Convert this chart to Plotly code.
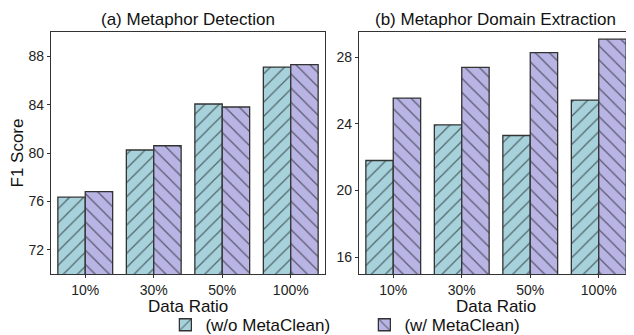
import plotly.graph_objects as go

categories = ["10%", "30%", "50%", "100%"]
det_wo = [76.35, 80.25, 84.05, 87.1]
det_w = [76.8, 80.6, 83.8, 87.3]
ext_wo = [21.8, 23.94, 23.3, 25.42]
ext_w = [25.54, 27.38, 28.26, 29.07]
det_ticks = [72, 76, 80, 84, 88]
ext_ticks = [16, 20, 24, 28]

C_WO = "#A7D2DB"
C_W = "#B8B4E4"
EDGE = "#333333"
FONT = "Liberation Sans, Arial, sans-serif"

fig = go.Figure()

def add(vals, color, shape, name, xa, ya, show):
    fig.add_trace(go.Bar(
        x=categories, y=vals, name=name, xaxis=xa, yaxis=ya,
        marker=dict(color=color, line=dict(color=EDGE, width=1.3),
                    pattern=dict(shape=shape, fgcolor="black", bgcolor=color,
                                 size=10, solidity=0.13, fillmode="overlay")),
        showlegend=show, legendgroup=name,
    ))

add(det_wo, C_WO, "/", "(w/o MetaClean)", "x", "y", True)
add(det_w, C_W, "\\", "(w/ MetaClean)", "x", "y", True)
add(ext_wo, C_WO, "/", "(w/o MetaClean)", "x2", "y2", False)
add(ext_w, C_W, "\\", "(w/ MetaClean)", "x2", "y2", False)

axcommon = dict(showline=True, linecolor=EDGE, linewidth=1.3, mirror=True,
                ticks="outside", ticklen=3, tickcolor=EDGE, showgrid=False,
                tickfont=dict(size=14, color="#222"), zeroline=False, automargin=False)

fig.update_layout(
    width=626, height=327,
    margin=dict(l=43, r=1, t=24, b=61),
    paper_bgcolor="white", plot_bgcolor="white",
    font=dict(family=FONT, color="#111"),
    barmode="group", bargap=0.2, bargroupgap=0,
    xaxis=dict(domain=[0, 0.4708], anchor="y", range=[-0.5, 3.5], **axcommon),
    yaxis=dict(domain=[0, 1], anchor="x", range=[70, 90], tickvals=det_ticks,
               title=dict(text="F1 Score", font=dict(size=17)), **axcommon),
    xaxis2=dict(domain=[0.5292, 1], anchor="y2", range=[-0.5, 3.5], **axcommon),
    yaxis2=dict(domain=[0, 1], anchor="x2", range=[15, 29.5], tickvals=ext_ticks,
                **axcommon),
    legend=dict(orientation="h", xref="container", yref="container",
                x=0.2514, xanchor="left", y=0.03, yanchor="middle",
                font=dict(size=17), itemwidth=30, entrywidth=154, entrywidthmode="pixels",
                bgcolor="rgba(0,0,0,0)"),
    annotations=[
        dict(text="(a) Metaphor Detection", x=0.2354, y=1.05, xref="paper", yref="paper",
             xanchor="center", yanchor="middle", showarrow=False, font=dict(size=17)),
        dict(text="(b) Metaphor Domain Extraction", x=0.7646, y=1.05, xref="paper", yref="paper",
             xanchor="center", yanchor="middle", showarrow=False, font=dict(size=17)),
        dict(text="Data Ratio", x=0.2354, y=-0.135, xref="paper", yref="paper",
             xanchor="center", yanchor="middle", showarrow=False, font=dict(size=17)),
        dict(text="Data Ratio", x=0.7646, y=-0.135, xref="paper", yref="paper",
             xanchor="center", yanchor="middle", showarrow=False, font=dict(size=17)),
    ],
)

fig.write_html("out.html")
